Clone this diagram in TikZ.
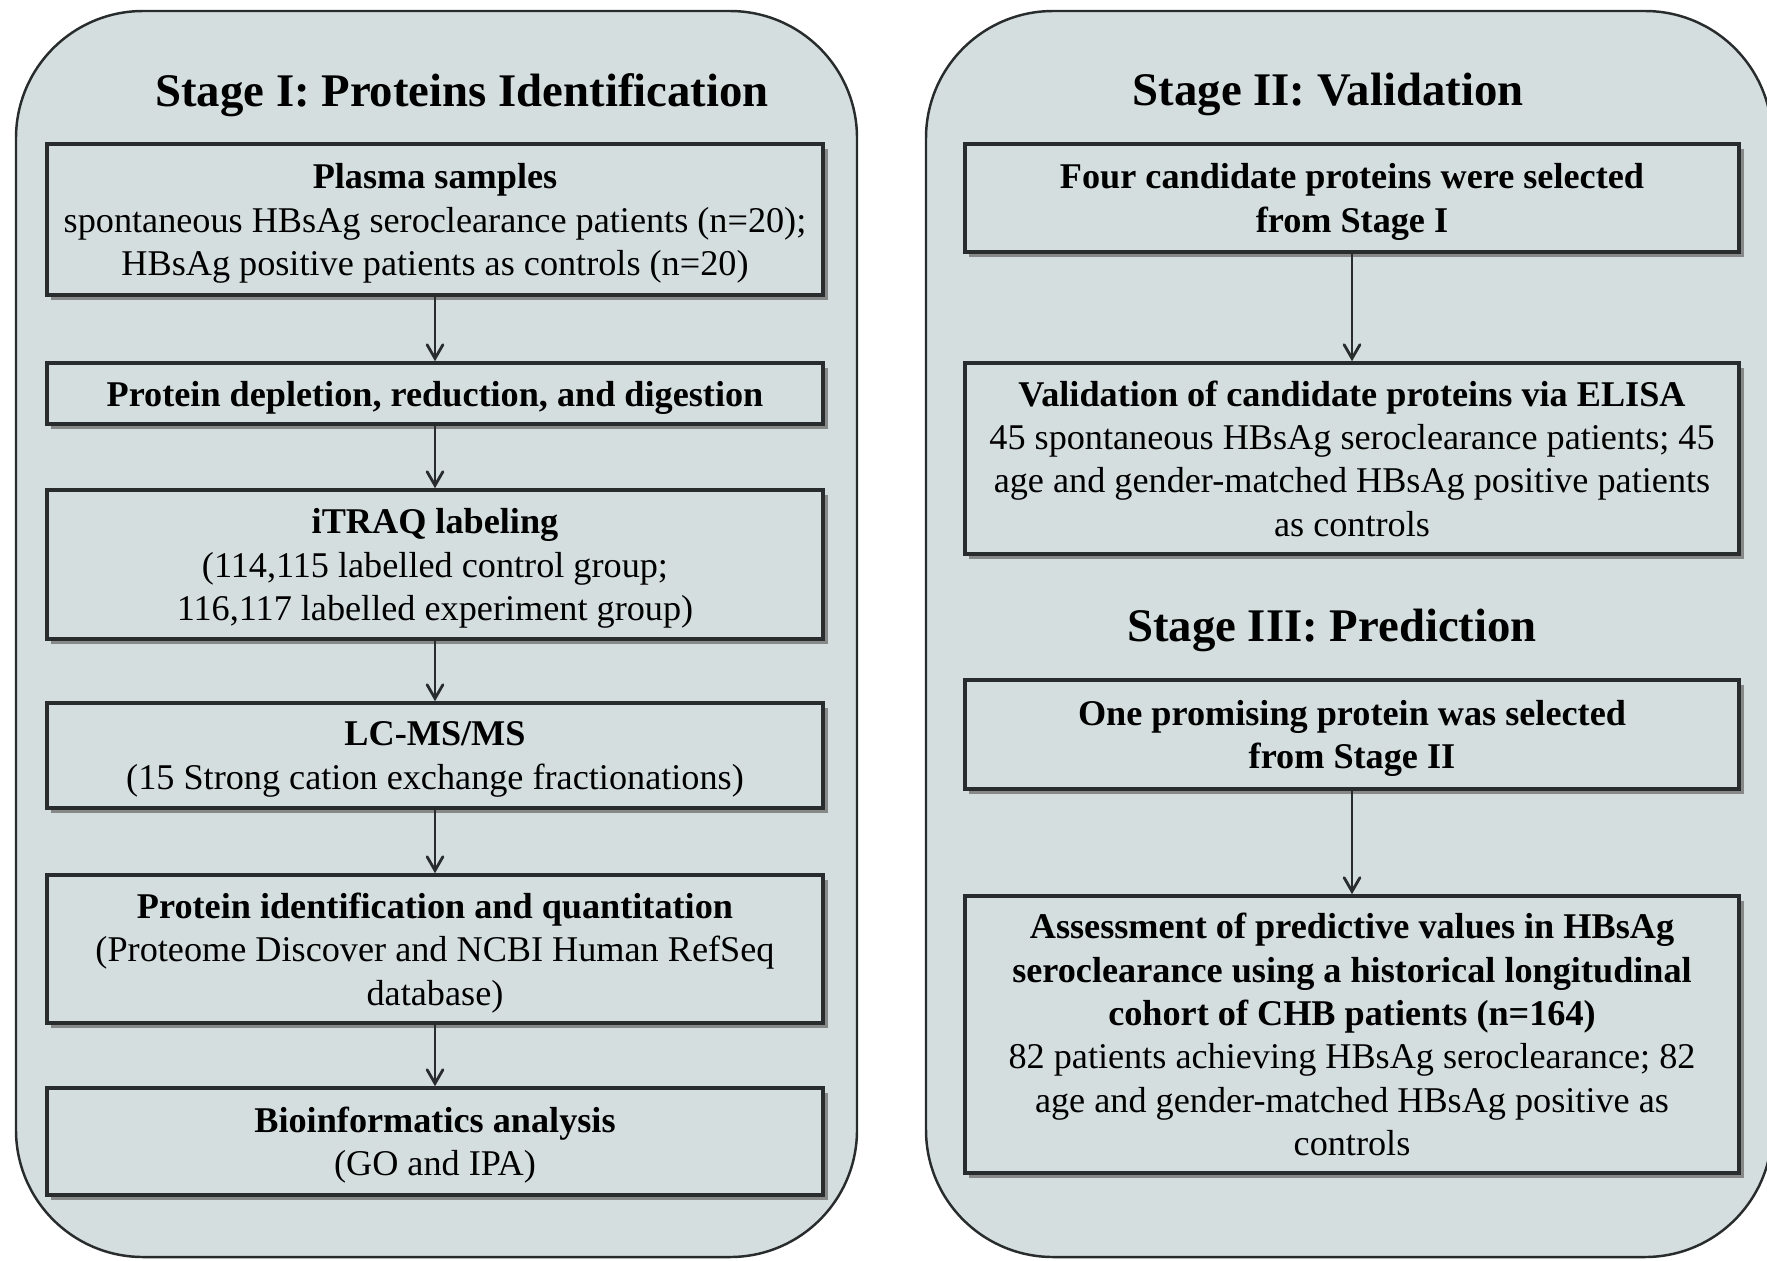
\documentclass[tikz,border=0pt]{standalone}
\usepackage{fontspec}
\setmainfont{Liberation Serif}
\usepackage{tikz}
\usetikzlibrary{arrows}
\usetikzlibrary{shadows}
\usepackage{xcolor}
\definecolor{panelfill}{RGB}{213,222,222}
\definecolor{edgegray}{RGB}{40,44,44}

\begin{document}
\begin{tikzpicture}
	[x=0.01cm, y=-0.01cm, line width=0.6, >=angle 60,
	panel/.style = {
		draw=edgegray, fill=panelfill, line width=0.7pt, rounded corners=1.27cm
	},
	box/.style = {
		draw=edgegray, fill=panelfill, line width=1pt, align=center,
		inner sep=0cm, minimum width=7.76cm, text depth=-2.6pt,
		font=\fontsize{10.3}{12.35}\selectfont,
		drop shadow={shadow xshift=0.45mm, shadow yshift=-0.5mm, fill=black!60, opacity=0.7}
	},
	rbox/.style = {
		box, minimum width=7.74cm
	},
	stagetitle/.style = {
		font=\fontsize{13.3}{16}\selectfont\bfseries
	},
	wire/.style = {
		->, draw=edgegray, line width=0.8pt
	}]
	\useasboundingbox (0,0) rectangle (1767,1260);
	
	%Draw panels
	\draw[panel] (16,11) rectangle (857,1257);
	\draw[panel] (926,11) rectangle (1772,1257);
	
	%Draw titles
	\node[stagetitle] at (462,95) (t1) {Stage I: Proteins Identification};
	\node[stagetitle] at (1328,94) (t2) {Stage II: Validation};
	\node[stagetitle] at (1332,630) (t3) {Stage III: Prediction};
	
	%Draw nodes, stage I
	\node[box, minimum height=1.51cm] at (435,219.5) (plasma)
		{\textbf{Plasma samples}\\
		spontaneous HBsAg seroclearance patients (n=20);\\
		HBsAg positive patients as controls (n=20)};
	\node[box, minimum height=0.61cm] at (435,393.5) (deplete)
		{\textbf{Protein depletion, reduction, and digestion}};
	\node[box, minimum height=1.49cm] at (435,564.5) (itraq)
		{\textbf{iTRAQ labeling}\\
		(114,115 labelled control group;\\
		116,117 labelled experiment group)};
	\node[box, minimum height=1.05cm] at (435,755.5) (lcms)
		{\textbf{LC-MS/MS}\\
		(15 Strong cation exchange fractionations)};
	\node[box, minimum height=1.48cm] at (435,949) (ident)
		{\textbf{Protein identification and quantitation}\\
		(Proteome Discover and NCBI Human RefSeq\\
		database)};
	\node[box, minimum height=1.07cm] at (435,1141.5) (bioinf)
		{\textbf{Bioinformatics analysis}\\
		(GO and IPA)};
	
	%Draw nodes, stage II and III
	\node[rbox, minimum height=1.08cm] at (1352,198) (four)
		{\textbf{Four candidate proteins were selected}\\
		\textbf{from Stage I}};
	\node[rbox, minimum height=1.91cm] at (1352,458.5) (elisa)
		{\textbf{Validation of candidate proteins via ELISA}\\
		45 spontaneous HBsAg seroclearance patients; 45\\
		age and gender-matched HBsAg positive patients\\
		as controls};
	\node[rbox, minimum height=1.09cm] at (1352,734.5) (one)
		{\textbf{One promising protein was selected}\\
		\textbf{from Stage II}};
	\node[rbox, minimum height=2.77cm] at (1352,1034.5) (assess)
		{\textbf{Assessment of predictive values in HBsAg}\\
		\textbf{seroclearance using a historical longitudinal}\\
		\textbf{cohort of CHB patients (n=164)}\\
		82 patients achieving HBsAg seroclearance; 82\\
		age and gender-matched HBsAg positive as\\
		controls};
	
	%Draw wires
	\draw[wire] (plasma) -- (deplete);
	\draw[wire] (deplete) -- (itraq);
	\draw[wire] (itraq) -- (lcms);
	\draw[wire] (lcms) -- (ident);
	\draw[wire] (ident) -- (bioinf);
	\draw[wire] (four) -- (elisa);
	\draw[wire] (one) -- (assess);
\end{tikzpicture}
\end{document}
